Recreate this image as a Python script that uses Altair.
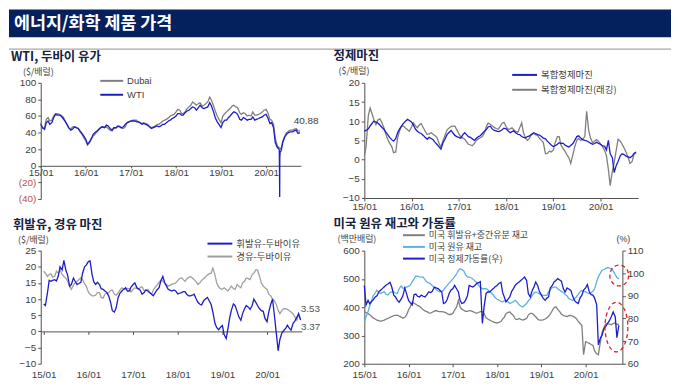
import altair as alt
import pandas as pd

# ---------------- data (semi-monthly readings, 2015-01-01 .. 2020-10-01) ----------------
DATES = pd.date_range("2015-01-01", "2020-10-01", freq="SMS").strftime("%Y-%m-%d").tolist()

WTI = [50, 46, 44, 52, 54, 50, 52, 58, 62, 61, 61, 60, 57, 54, 50, 46, 43, 44, 47, 46, 45, 42, 39, 36,
       32, 26, 29, 33, 38, 40, 42, 44, 46, 47, 46, 49, 48, 45, 43, 46, 46, 48, 47, 46, 47, 50, 52, 53,
       54, 54, 54, 53, 53, 52, 50, 51, 50, 49, 47, 45, 46, 47, 48, 47, 48, 50, 50, 52, 54, 55, 57, 58,
       60, 63, 63, 61, 61, 64, 66, 67, 69, 71, 70, 67, 70, 73, 70, 69, 70, 71, 76, 72, 65, 58, 53, 50,
       46, 52, 55, 55, 58, 60, 63, 65, 64, 62, 56, 55, 58, 57, 55, 56, 56, 59, 55, 56, 57, 58, 59, 61,
       62, 58, 51, 52, 46, 28, 22, 20, 18, 28, 35, 38, 40, 41, 41, 42, 43, 39, 40]
WTI_SPIKE_DATES = ["2020-04-17", "2020-04-20", "2020-04-21", "2020-04-24"]
WTI_SPIKE = [18.3, -37.6, 10.0, 17.0]

DUBAI = [52, 45, 46, 56, 58, 54, 55, 60, 63, 63, 62, 61, 59, 55, 50, 46, 44, 47, 47, 46, 45, 41, 38, 34,
         30, 25, 28, 32, 36, 38, 41, 43, 46, 47, 46, 47, 45, 43, 42, 45, 45, 47, 48, 45, 45, 47, 52, 53,
         54, 55, 55, 55, 53, 52, 51, 52, 51, 50, 47, 46, 47, 48, 50, 50, 52, 54, 55, 56, 58, 60, 61, 62,
         65, 68, 67, 63, 63, 65, 69, 71, 73, 77, 75, 73, 75, 76, 72, 73, 75, 77, 83, 79, 72, 66, 60, 56,
         52, 60, 63, 65, 67, 69, 72, 73, 71, 70, 64, 62, 64, 63, 60, 61, 60, 65, 61, 61, 62, 63, 65, 67,
         68, 64, 56, 55, 50, 33, 24, 22, 20, 30, 36, 40, 42, 43, 43, 44, 45, 42, 42]

MARGIN = [7.4, 7.6, 8.0, 8.8, 9.4, 10.0, 9.8, 9.5, 9.0, 8.5, 7.9, 7.2, 6.5, 5.8, 5.2, 4.8, 5.5, 7.0, 8.0, 8.7, 9.5, 10.0, 10.5, 10.2,
          9.8, 9.0, 7.9, 7.4, 7.0, 6.8, 6.3, 5.8, 5.3, 5.8, 5.5, 5.2, 4.5, 4.0, 3.3, 2.7, 4.5, 5.3, 6.5, 7.0, 7.6, 7.0, 6.3, 6.0,
          5.8, 5.6, 6.5, 7.0, 6.5, 6.0, 5.8, 5.4, 5.0, 5.5, 6.0, 6.2, 6.8, 7.3, 7.8, 8.5, 8.7, 8.0, 7.6, 7.5, 7.3, 7.4, 7.8, 8.2,
          8.0, 7.5, 7.0, 7.3, 7.5, 7.0, 6.6, 6.5, 6.0, 5.8, 5.7, 6.0, 6.2, 6.5, 7.0, 6.8, 6.5, 6.4, 6.0, 5.6, 5.4, 4.8, 4.3, 3.8,
          3.4, 3.6, 4.0, 4.4, 4.2, 4.3, 3.8, 3.5, 3.3, 3.7, 4.2, 5.0, 6.0, 6.2, 5.6, 5.2, 5.0, 4.9, 4.6, 4.3, 4.0, 4.2, 4.5, 4.2,
          4.0, 3.6, 3.5, 2.5, 5.0, 1.5, 0.5, -3.4, -1.5, -0.5, 1.0, 1.5, 1.3, 0.9, 0.7, 0.5, 0.9, 1.6, 2.0]

MARGIN_LAG = [1.0, 3.5, 11.5, 13.4, 12.0, 10.5, 9.1, 10.3, 10.6, 9.8, 8.4, 6.7, 5.3, 4.3, 3.4, 1.8, 2.0, 5.7, 7.5, 8.7, 8.7, 8.2, 7.8, 7.4,
              8.5, 9.6, 8.8, 8.3, 9.0, 9.4, 8.3, 7.4, 6.6, 6.7, 7.0, 6.6, 6.2, 5.8, 4.2, 3.3, 5.0, 6.3, 7.7, 8.2, 8.6, 8.7, 8.7, 7.8,
              6.7, 6.0, 5.6, 5.3, 4.6, 4.0, 3.8, 3.6, 4.2, 5.0, 5.4, 5.7, 6.0, 6.8, 8.6, 9.5, 9.2, 8.8, 8.4, 8.1, 7.9, 8.6, 9.5, 9.7,
              8.6, 7.9, 8.0, 8.3, 7.8, 7.4, 7.1, 8.2, 9.6, 7.0, 5.5, 5.0, 5.6, 6.6, 6.8, 6.5, 6.3, 5.6, 5.0, 4.5, 1.5, 1.6, 2.2, 2.0,
              2.5, 4.4, 6.0, 6.0, 3.8, 3.0, 2.2, 1.3, 0.5, -1.0, 1.3, 3.3, 5.0, 5.5, 5.0, 5.3, 6.0, 12.6, 7.6, 5.6, 4.4, 4.8, 5.2, 4.8,
              4.0, 3.5, 2.4, 1.0, -2.5, -6.8, -3.0, -0.8, 2.5, 5.3, 4.8, 4.0, 3.0, 2.0, 0.5, -1.0, -0.5, 1.4, 1.8]

GASOLINE = [8.5, 8.0, 12.0, 15.8, 15.5, 15.8, 16.0, 15.6, 17.2, 20.0, 19.0, 22.0, 19.0, 17.5, 14.0, 14.5, 16.5, 15.5, 14.5, 14.8, 15.2, 18.0, 20.0, 20.5,
            21.6, 21.8, 17.5, 15.3, 14.5, 15.2, 14.5, 13.2, 13.0, 12.5, 12.0, 11.0, 9.0, 6.4, 6.0, 7.2, 10.5, 11.8, 12.5, 13.0, 13.5, 12.5, 12.5, 13.7,
            14.5, 15.0, 13.5, 13.2, 12.7, 11.5, 12.0, 12.8, 12.5, 12.0, 11.5, 11.0, 12.0, 12.8, 13.5, 15.5, 17.0, 15.2, 14.0, 13.0, 12.7, 12.5, 12.8, 12.5,
            11.6, 11.8, 12.0, 12.3, 12.3, 11.5, 11.0, 11.0, 11.2, 11.5, 10.0, 9.0, 8.4, 8.2, 9.5, 10.0, 10.5, 9.5, 8.3, 6.0, 2.5, 1.2, 0.5, 1.2,
            1.8, -1.0, -2.2, 0.8, 4.0, 6.5, 8.5, 8.0, 6.2, 4.5, 3.4, 5.5, 7.0, 8.0, 7.5, 6.8, 8.0, 10.0, 9.0, 8.0, 7.0, 6.4, 6.2, 4.0,
            3.0, 6.0, 8.5, 10.0, 5.0, 0.0, -6.0, -2.5, -0.5, 0.2, 0.9, 1.9, 1.0, 0.4, 2.5, 3.2, 4.4, 5.5, 3.5]

DIESEL = [18.6, 18.0, 17.0, 17.6, 17.8, 16.8, 17.0, 18.6, 18.0, 19.0, 17.6, 17.0, 16.5, 15.6, 14.0, 13.0, 14.3, 15.0, 15.5, 16.0, 16.6, 16.0, 14.8, 14.0,
          12.2, 11.5, 11.0, 11.0, 11.2, 12.0, 12.0, 10.5, 10.3, 11.5, 11.8, 12.0, 12.6, 12.8, 11.5, 11.2, 11.9, 12.8, 13.5, 13.2, 13.0, 13.3, 13.2, 12.2,
          13.0, 13.5, 13.2, 13.0, 13.6, 13.8, 12.6, 12.7, 13.0, 12.2, 11.5, 12.8, 13.6, 14.3, 15.2, 15.8, 15.6, 15.0, 14.5, 14.0, 14.3, 14.6, 14.8, 15.0,
          15.7, 16.3, 16.6, 16.0, 15.5, 16.2, 16.7, 17.0, 16.5, 16.0, 15.3, 14.5, 15.0, 15.8, 16.3, 16.8, 17.5, 17.8, 18.0, 19.6, 17.5, 15.0, 13.8, 13.2,
          13.0, 13.5, 13.0, 12.5, 13.2, 14.0, 13.2, 13.0, 14.5, 14.0, 13.5, 15.0, 15.5, 16.5, 16.3, 16.0, 17.5, 18.0, 19.0, 19.0, 17.0, 15.0, 14.0, 13.5,
          13.0, 11.5, 11.0, 10.0, 9.5, 8.5, 6.5, 5.5, 6.5, 7.0, 7.0, 6.8, 6.4, 6.0, 5.4, 4.5, 3.4, 5.4, 3.9]

CRUDE_INV = [348, 365, 385, 405, 420, 440, 450, 460, 452, 448, 452, 454, 445, 443, 452, 454, 454, 450, 448, 465, 475, 467, 468, 471,
             474, 477, 490, 500, 510, 510, 507, 506, 506, 497, 489, 486, 482, 476, 468, 462, 457, 454, 456, 460, 470, 477, 485, 492,
             500, 508, 518, 530, 536, 533, 528, 515, 506, 506, 504, 500, 492, 488, 477, 470, 465, 465, 465, 462, 454, 450, 442, 434,
             428, 425, 420, 419, 422, 424, 418, 413, 416, 419, 424, 418, 408, 404, 401, 407, 413, 422, 430, 440, 450, 454, 451, 447,
             443, 442, 442, 442, 455, 462, 469, 471, 471, 465, 460, 455, 452, 445, 440, 430, 427, 424, 430, 436, 445, 454, 459, 457,
             454, 450, 448, 452, 456, 465, 490, 508, 520, 530, 533, 537, 540, 538, 536, 528, 515, 505, 500]

PRODUCT_INV = [384, 381, 377, 373, 368, 362, 358, 354, 352, 350, 352, 354, 358, 360, 364, 367, 370, 371, 372, 368, 365, 361, 364, 372,
               390, 401, 418, 414, 410, 406, 403, 397, 391, 387, 384, 380, 379, 382, 386, 388, 385, 384, 384, 383, 381, 377, 374, 374,
               378, 390, 401, 424, 401, 393, 389, 385, 385, 388, 387, 384, 381, 378, 381, 384, 384, 378, 362, 358, 354, 351, 348, 345,
               344, 346, 349, 358, 365, 377, 382, 383, 376, 370, 358, 356, 360, 357, 354, 357, 360, 372, 378, 378, 372, 366, 358, 354,
               354, 355, 358, 362, 368, 375, 388, 398, 401, 392, 384, 375, 371, 368, 367, 370, 371, 368, 365, 360, 350, 343, 335, 232,
               278, 275, 272, 268, 265, 245, 235, 232, 275, 310, 330, 340, 342, 340, 338, 342, 345, 338, 340]

UTIL = [94.6, 86.0, 88.0, 86.5, 87.5, 88.2, 89.5, 90.0, 91.8, 92.5, 93.3, 94.0, 94.8, 95.2, 96.0, 94.0, 90.3, 89.5, 88.0, 87.2, 88.5, 90.0, 93.5, 91.0,
        88.0, 87.0, 86.0, 90.5, 90.8, 89.8, 89.5, 90.3, 89.8, 89.5, 90.5, 91.7, 91.5, 92.0, 93.9, 93.5, 93.2, 92.5, 91.7, 86.6, 87.0, 88.5, 91.0, 92.5,
        93.2, 94.6, 93.0, 91.7, 88.0, 86.6, 87.0, 88.0, 90.0, 94.6, 94.2, 93.9, 94.6, 95.4, 95.8, 96.3, 77.8, 85.0, 91.0, 91.7, 91.7, 92.5, 93.2, 94.0,
        94.6, 95.5, 96.0, 91.5, 89.5, 87.3, 88.5, 89.5, 92.0, 93.2, 94.8, 95.5, 96.1, 96.8, 97.6, 98.3, 96.8, 91.0, 89.5, 92.0, 94.0, 96.1, 94.6, 92.0,
        90.3, 89.0, 88.0, 89.0, 89.5, 93.5, 94.6, 96.1, 96.8, 97.6, 97.0, 96.5, 93.2, 91.7, 93.5, 93.0, 92.4, 90.0, 88.0, 87.2, 86.6, 89.0, 90.3, 92.5,
        93.5, 95.0, 91.7, 90.5, 90.3, 89.0, 86.0, 68.3, 71.3, 72.5, 75.6, 76.5, 78.0, 79.0, 81.0, 82.9, 80.8, 71.5, 77.0]

ANN1_DATES = ["2020-08-12"]
ANN1_VALUES = [53.8]
ANN1_TEXT = ["40.88"]
ANN3_DATES = ["2020-10-03", "2020-10-05"]
ANN3_VALUES = [6.9, 1.35]
ANN3_TEXT = ["3.53", "3.37"]
ELL_INV_DATE, ELL_INV_VALUE = ["2020-10-04"], [512]
ELL_UTIL_DATE, ELL_UTIL_VALUE = ["2020-09-11"], [76.2]

for arr in (WTI, DUBAI, MARGIN, MARGIN_LAG, GASOLINE, DIESEL, CRUDE_INV, PRODUCT_INV, UTIL):
    assert len(arr) == len(DATES), len(arr)

# ---------------- style ----------------
FONT = "Liberation Sans, Noto Sans CJK KR"
KFONT = "Noto Sans CJK KR"
BLUE = "#1c1cc8"
GRAY = "#7f7f7f"
LGRAY = "#a0a0a0"
SKY = "#5ab1e3"
NAVY = "#04215e"
TITLE = "#15213f"
LBL = "#404040"
RED = "#c0504d"
ONE = alt.Data(values=[{}])


def frame(vals, dates=DATES, text=None):
    d = {"date": dates, "value": vals}
    if text is not None:
        d["text"] = text
    return pd.DataFrame(d)


def dt(y, m, d):
    return alt.DateTime(year=y, month=m, date=d, utc=True)


YEAR_TICKS = [dt(y, 1, 1) for y in range(2015, 2021)]


def xdef(dom, **kw):
    ax = dict(values=YEAR_TICKS, format="%y/%m", tickSize=3, labelPadding=2, labelFlush=False)
    ax.update(kw)
    return alt.X("date:T", title=None, scale=alt.Scale(type="utc", domain=dom),
                 axis=alt.Axis(**ax))


def ydef(dom, values, **kw):
    ax = dict(values=values, tickSize=3, labelPadding=2, labelFlush=False)
    ax.update(kw)
    return alt.Y("value:Q", title=None, scale=alt.Scale(domain=dom, nice=False, zero=False),
                 axis=alt.Axis(**ax))


def line(df, color, x, y, w=1.3):
    return alt.Chart(df).mark_line(color=color, strokeWidth=w).encode(x=x, y=y)


def txt(x, y, s, size=10, color=LBL, weight="normal", align="left", font=KFONT):
    return alt.Chart(ONE).mark_text(text=s, fontSize=size, color=color, fontWeight=weight,
                                    align=align, baseline="middle", font=font).encode(
        x=alt.value(x), y=alt.value(y))


def hline(x1, x2, y, color, w=2.0):
    return alt.Chart(ONE).mark_rule(color=color, strokeWidth=w).encode(
        x=alt.value(x1), x2=alt.value(x2), y=alt.value(y))


def legend(entries, x0, x1, xt, y0, dy, font=KFONT, size=9.5):
    out = []
    for i, (label, color) in enumerate(entries):
        y = y0 + i * dy
        out.append(hline(x0, x1, y, color, 2))
        out.append(txt(xt, y, label, size=size, color=LBL, font=font))
    return out


def ellipse_path(a, b):
    k = 0.5523
    ka, kb = round(k * a, 4), round(k * b, 4)
    return (f"M{a},0 C{a},{kb} {ka},{b} 0,{b} C{-ka},{b} {-a},{kb} {-a},0 "
            f"C{-a},{-kb} {-ka},{-b} 0,{-b} C{ka},{-b} {a},{-kb} {a},0 Z")


# ---------------- panel 1: WTI / Dubai ----------------
W1, H1 = 262, 117
x1 = xdef([dt(2015, 1, 1), dt(2020, 10, 8)], offset=-H1 * 40 / 140, tickSize=2, labelPadding=0)
y1 = ydef([-40, 100], list(range(-40, 101, 20)),
          labelExpr="datum.value < 0 ? '(' + abs(datum.value) + ')' : datum.label",
          labelColor=alt.condition("datum.value < 0", alt.value(RED), alt.value(LBL)))
wti_df = pd.concat([frame(WTI), frame(WTI_SPIKE, WTI_SPIKE_DATES)]).sort_values("date")
p1 = alt.layer(
    alt.Chart(ONE).mark_rect(color=NAVY).encode(x=alt.value(-32), x2=alt.value(635),
                                                  y=alt.value(-74), y2=alt.value(-46)),
    txt(-27, -59.5, "에너지/화학 제품 가격", size=17.5, color="white", weight="bold"),
    hline(-32, 635, -34, "#a8a8a8", 1.2),
    txt(-30, -26, "WTI, 두바이 유가", size=12.5, color=TITLE, weight="bold"),
    txt(-18, -11, "($/배럴)", size=9, color=LBL),
    line(frame(DUBAI), GRAY, x1, y1),
    line(wti_df, BLUE, x1, y1),
    alt.Chart(frame(ANN1_VALUES, ANN1_DATES, ANN1_TEXT)).mark_text(
        fontSize=10, color=LBL, align="left", baseline="middle", font=FONT).encode(
        x=x1, y=y1, text="text:N"),
    *legend([("Dubai", GRAY), ("WTI", BLUE)], 60, 83, 87, -2, 14, font=FONT),
).properties(width=W1, height=H1)

# ---------------- panel 2: refining margin ----------------
W2, H2 = 276, 116
x2 = xdef([dt(2015, 1, 1), dt(2020, 10, 18)], labelPadding=1)
y2 = ydef([-10, 20], list(range(-10, 21, 5)))
p2 = alt.layer(
    txt(-31, -27, "정제마진", size=12.5, color=TITLE, weight="bold"),
    txt(-26, -11.5, "($/배럴)", size=9, color=LBL),
    line(frame(MARGIN_LAG), GRAY, x2, y2),
    line(frame(MARGIN), BLUE, x2, y2),
    *legend([("복합정제마진", BLUE), ("복합정제마진(래깅)", GRAY)], 149, 174, 178, -8, 15),
).properties(width=W2, height=H2)

# ---------------- panel 3: gasoline / diesel margin ----------------
W3, H3 = 263, 114
dom3 = [dt(2014, 12, 8), dt(2020, 10, 11)]
x3_zero = xdef(dom3, orient="bottom", offset=-H3 * 10 / 35, labels=False)
x3_lab = xdef(dom3, orient="bottom", domain=False, ticks=False, labelPadding=6)
x3_none = alt.X("date:T", title=None, scale=alt.Scale(type="utc", domain=dom3), axis=None)
y3 = ydef([-10, 25], list(range(-10, 26, 5)))
p3 = alt.layer(
    txt(-28, -26, "휘발유, 경유 마진", size=12.5, color=TITLE, weight="bold"),
    txt(-23, -10.5, "($/배럴)", size=9, color=LBL),
    line(frame(DIESEL), LGRAY, x3_lab, y3),
    line(frame(GASOLINE), BLUE, x3_zero, y3),
    alt.Chart(frame(ANN3_VALUES, ANN3_DATES, ANN3_TEXT)).mark_text(
        fontSize=10, color="#555555", align="left", baseline="middle", font=FONT).encode(
        x=x3_none, y=y3, text="text:N"),
    *legend([("휘발유-두바이유", BLUE), ("경유-두바이유", LGRAY)], 168, 193, 197, -7, 13),
).resolve_axis(x="independent").properties(width=W3, height=H3)

# ---------------- panel 4: US inventories & utilization ----------------
W4, H4 = 260, 114
x4 = xdef([dt(2015, 1, 1), dt(2020, 10, 30)], labelPadding=3)
y4l = ydef([200, 600], list(range(200, 601, 100)))
y4r = ydef([60, 110], list(range(60, 111, 10)), orient="right")
ell_style = dict(filled=False, color="#e02020", strokeDash=[4, 3], strokeWidth=1.3, opacity=1)
left = alt.layer(
    line(frame(PRODUCT_INV), GRAY, x4, y4l),
    line(frame(CRUDE_INV), SKY, x4, y4l),
    alt.Chart(frame(ELL_INV_VALUE, ELL_INV_DATE)).mark_point(
        shape=ellipse_path(0.9, 1), size=441, **ell_style).encode(x=x4, y=y4l),
)
right = alt.layer(
    line(frame(UTIL), BLUE, x4, y4r),
    alt.Chart(frame(ELL_UTIL_VALUE, ELL_UTIL_DATE)).mark_point(
        shape=ellipse_path(0.46, 1), size=2500, **ell_style).encode(x=x4, y=y4r),
)
p4 = alt.layer(
    left, right,
    txt(-31, -27, "미국 원유 재고와 가동률", size=12.5, color=TITLE, weight="bold"),
    txt(-27, -12, "(백만배럴)", size=9, color=LBL),
    txt(261, -12, "(%)", size=9, color=LBL, align="center", font=FONT),
    *legend([("미국 휘발유+중간유분 재고", GRAY), ("미국 원유 재고", SKY),
             ("미국 정제가동률(우)", BLUE)], 39, 61, 65, -15.5, 11.8, size=9),
).resolve_scale(y="independent").properties(width=W4, height=H4)

chart = alt.concat(
    p1, p2, p3, p4, columns=2, spacing={"row": 52, "column": 63}, bounds="flush"
).properties(padding=0).configure_view(stroke=None).configure_axis(
    labelFont=FONT, labelFontSize=10, labelColor=LBL, domainColor="#505050",
    tickColor="#505050", grid=False
)

chart.save("out.html", embed_options={"renderer": "svg", "actions": False})
